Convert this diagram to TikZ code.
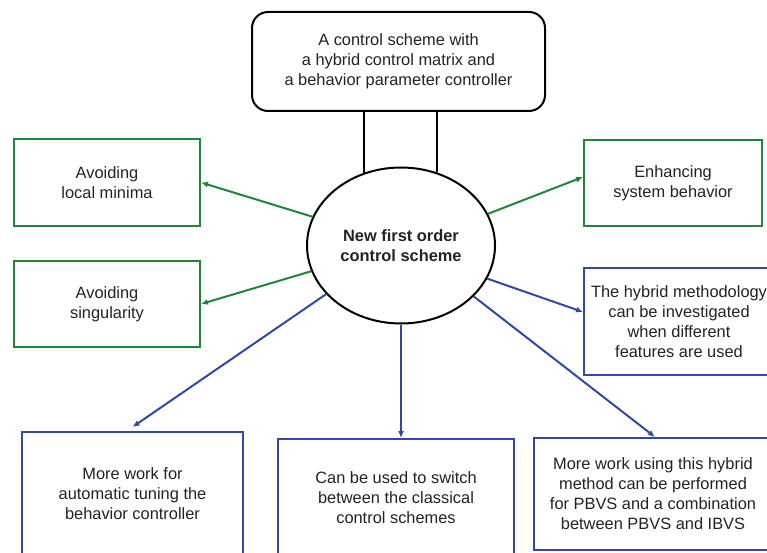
\documentclass[tikz,border=0pt]{standalone}
\usepackage{fontspec}
\setmainfont{Liberation Sans}
\usetikzlibrary{arrows.meta,shapes.geometric}
\definecolor{gr}{RGB}{30,135,60}
\definecolor{bl}{RGB}{50,72,165}
\definecolor{tx}{RGB}{35,35,35}
\begin{document}
\begin{tikzpicture}[x=1pt,y=-1pt,
  txt/.style={font=\fontsize{16.4}{20}\selectfont, text=tx, align=center, inner sep=0pt},
  gbox/.style={txt, draw=gr, line width=2pt, rectangle},
  bbox/.style={txt, draw=bl, line width=2pt, rectangle},
  garr/.style={draw=gr, line width=2pt, -{Latex[length=7pt,width=6pt]}},
  barr/.style={draw=bl, line width=2pt, -{Latex[length=7pt,width=6pt]}},
  blk/.style={draw=black, line width=2pt}
]
\useasboundingbox (0,0) rectangle (767,553);
\clip (0,0) rectangle (767,553);
\fill[white] (0,0) rectangle (767,553);

% top box
\node[txt, blk, rounded corners=16pt, minimum width=293pt, minimum height=99pt] (top) at (398.5,61.5)
  {A control scheme with\\a hybrid control matrix and\\a behavior parameter controller};

% central ellipse
\node[txt, blk, ellipse, minimum width=188pt, minimum height=156pt, font=\fontsize{16.4}{20}\selectfont\bfseries] (ell) at (401,245.5)
  {New first order\\control scheme};

\draw[blk] (top.south -| ell.117.3) -- (ell.117.3);
\draw[blk] (top.south -| ell.64.9) -- (ell.64.9);

% green boxes
\node[gbox, minimum width=186pt, minimum height=86pt] (lm) at (107,182.5) {Avoiding\\local minima};
\node[gbox, minimum width=186pt, minimum height=86pt] (sing) at (107,304) {Avoiding\\singularity};
\node[gbox, minimum width=178pt, minimum height=86pt] (enh) at (673,183) {Enhancing\\system behavior};

% blue boxes
\node[bbox, minimum width=190pt, minimum height=107pt] (hyb) at (679,321.5)
  {The hybrid methodology\\can be investigated\\when different\\features are used};
\node[bbox, minimum width=221pt, minimum height=124pt] (A) at (132.5,494)
  {More work for\\automatic tuning the\\behavior controller};
\node[bbox, minimum width=236pt, minimum height=118pt] (B) at (396,498)
  {Can be used to switch\\between the classical\\control schemes};
\node[bbox, minimum width=238pt, minimum height=112pt] (C) at (653,494)
  {More work using this hybrid\\method can be performed\\for PBVS and a combination\\between PBVS and IBVS};

% connectors
\draw[garr] (ell.162.8) -- (lm.east);
\draw[garr] (ell.196.6) -- (sing.east);
\draw[garr] (ell.20.8) -- ([yshift=6pt]enh.west);
\draw[barr] (ell.339.4) -- ([yshift=9.5pt]hyb.west);
\draw[barr] (ell.213.9) -- ([yshift=4pt]A.north);
\draw[barr] (ell.south) -- (ell.south |- B.north);
\draw[barr] (ell.325.2) -- ([xshift=2pt]C.north);
\end{tikzpicture}
\end{document}
